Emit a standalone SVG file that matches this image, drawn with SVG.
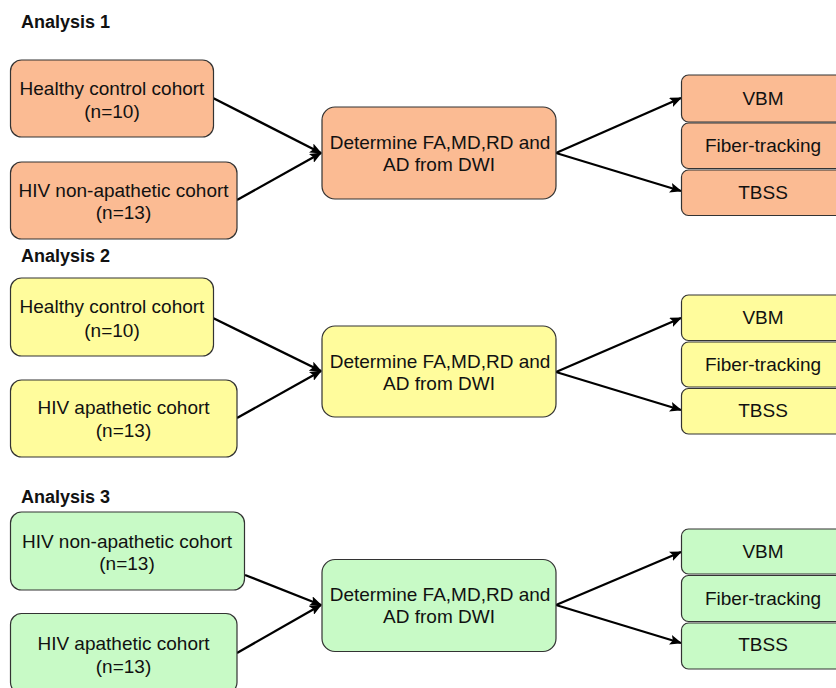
<svg xmlns="http://www.w3.org/2000/svg" width="836" height="688" viewBox="0 0 836 688">
<defs>
<marker id="ah" markerWidth="12" markerHeight="10" refX="11" refY="5" orient="auto" markerUnits="userSpaceOnUse">
<path d="M0,0 L12,5 L0,10 L2.5,5 Z" fill="#000"/>
</marker>
<style>
.box{stroke:#333;stroke-width:1.2}
.o{fill:#FBBB93}
.y{fill:#FFFC9C}
.g{fill:#C8FAC6}
.t{font-family:"Liberation Sans",Arial,sans-serif;font-size:19px;fill:#111;text-anchor:middle}
.h{font-family:"Liberation Sans",Arial,sans-serif;font-size:18px;font-weight:bold;fill:#111}
.c{stroke:#000;stroke-width:2.3;fill:none;marker-end:url(#ah)}
</style>
</defs>
<rect width="836" height="688" fill="#fff"/>

<text class="h" x="21" y="28">Analysis 1</text>
<text class="h" x="21" y="262">Analysis 2</text>
<text class="h" x="21" y="503">Analysis 3</text>

<g id="connectors">
<line class="c" x1="213" y1="98" x2="321" y2="153"/>
<line class="c" x1="237" y1="200" x2="321" y2="153"/>
<line class="c" x1="556" y1="153" x2="681" y2="98"/>
<line class="c" x1="556" y1="153" x2="681" y2="191"/>

<line class="c" x1="213" y1="318" x2="321" y2="371"/>
<line class="c" x1="237" y1="418" x2="321" y2="371"/>
<line class="c" x1="556" y1="372" x2="681" y2="318"/>
<line class="c" x1="556" y1="372" x2="681" y2="410"/>

<line class="c" x1="245" y1="575" x2="321" y2="605"/>
<line class="c" x1="237" y1="653" x2="321" y2="605"/>
<line class="c" x1="556" y1="605" x2="681" y2="552"/>
<line class="c" x1="556" y1="605" x2="681" y2="643"/>
</g>

<!-- Analysis 1 -->
<g id="a1-healthy"><rect class="box o" x="10.5" y="60" width="203" height="77" rx="11"/>
<text class="t" x="112" y="95">Healthy control cohort</text><text class="t" x="112" y="118">(n=10)</text></g>
<g id="a1-nonapathetic"><rect class="box o" x="10.5" y="162" width="226.5" height="77" rx="11"/>
<text class="t" x="123.5" y="197">HIV non-apathetic cohort</text><text class="t" x="123.5" y="219">(n=13)</text></g>
<g id="a1-determine"><rect class="box o" x="322" y="107" width="234" height="92" rx="13"/>
<text class="t" x="440" y="149">Determine FA,MD,RD and</text><text class="t" x="439" y="171">AD from DWI</text></g>
<g id="a1-vbm"><rect class="box o" x="681.5" y="75" width="165" height="47" rx="7"/><text class="t" x="763" y="105">VBM</text></g>
<g id="a1-fiber"><rect class="box o" x="681.5" y="123" width="165" height="45.5" rx="7"/><text class="t" x="763" y="152">Fiber-tracking</text></g>
<g id="a1-tbss"><rect class="box o" x="681.5" y="170" width="165" height="45.5" rx="7"/><text class="t" x="763" y="199">TBSS</text></g>

<!-- Analysis 2 -->
<g id="a2-healthy"><rect class="box y" x="10.5" y="278" width="203" height="78" rx="11"/>
<text class="t" x="112" y="313">Healthy control cohort</text><text class="t" x="112" y="337">(n=10)</text></g>
<g id="a2-apathetic"><rect class="box y" x="10.5" y="380" width="226.5" height="77" rx="11"/>
<text class="t" x="123.5" y="414">HIV apathetic cohort</text><text class="t" x="123.5" y="437">(n=13)</text></g>
<g id="a2-determine"><rect class="box y" x="322" y="326" width="234" height="91" rx="13"/>
<text class="t" x="440" y="368">Determine FA,MD,RD and</text><text class="t" x="439" y="390">AD from DWI</text></g>
<g id="a2-vbm"><rect class="box y" x="681.5" y="295" width="165" height="45.5" rx="7"/><text class="t" x="763" y="324">VBM</text></g>
<g id="a2-fiber"><rect class="box y" x="681.5" y="342" width="165" height="45" rx="7"/><text class="t" x="763" y="371">Fiber-tracking</text></g>
<g id="a2-tbss"><rect class="box y" x="681.5" y="388.5" width="165" height="45.5" rx="7"/><text class="t" x="763" y="417">TBSS</text></g>

<!-- Analysis 3 -->
<g id="a3-nonapathetic"><rect class="box g" x="10.5" y="512" width="234" height="78" rx="11"/>
<text class="t" x="127" y="548">HIV non-apathetic cohort</text><text class="t" x="127" y="570">(n=13)</text></g>
<g id="a3-apathetic"><rect class="box g" x="10.5" y="613.5" width="226.5" height="80" rx="11"/>
<text class="t" x="123.5" y="650">HIV apathetic cohort</text><text class="t" x="123.5" y="673">(n=13)</text></g>
<g id="a3-determine"><rect class="box g" x="322" y="559.5" width="234" height="92" rx="13"/>
<text class="t" x="440" y="601">Determine FA,MD,RD and</text><text class="t" x="439" y="623">AD from DWI</text></g>
<g id="a3-vbm"><rect class="box g" x="681.5" y="529" width="165" height="45" rx="7"/><text class="t" x="763" y="558">VBM</text></g>
<g id="a3-fiber"><rect class="box g" x="681.5" y="575.5" width="165" height="46" rx="7"/><text class="t" x="763" y="605">Fiber-tracking</text></g>
<g id="a3-tbss"><rect class="box g" x="681.5" y="623" width="165" height="46" rx="7"/><text class="t" x="763" y="651">TBSS</text></g>
</svg>
